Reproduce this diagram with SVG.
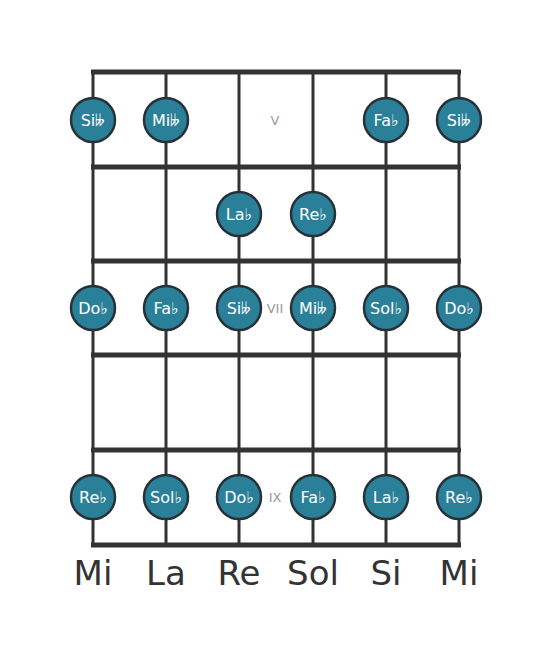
<svg xmlns="http://www.w3.org/2000/svg" width="553" height="656" viewBox="0 0 553 656">
<style>
.fret{stroke:#333;stroke-width:5;fill:none}
.str{stroke:#333;stroke-width:3;fill:none}
.note circle{fill:#2b8099;stroke:#263238;stroke-width:2.5}
.note text{fill:#fff;font-family:"DejaVu Sans",sans-serif;font-size:16px;text-anchor:middle;dominant-baseline:central}
.fn{fill:#999;font-family:"DejaVu Sans",sans-serif;font-size:13px;text-anchor:middle;dominant-baseline:central}
.sn{fill:#333;font-family:"DejaVu Sans",sans-serif;font-size:34px;text-anchor:middle}
</style>
<rect width="553" height="656" fill="#fff"/>
<g id="fretboard">
<line class="str" x1="93" y1="72" x2="93" y2="545"/>
<line class="str" x1="166" y1="72" x2="166" y2="545"/>
<line class="str" x1="239" y1="72" x2="239" y2="545"/>
<line class="str" x1="313" y1="72" x2="313" y2="545"/>
<line class="str" x1="386" y1="72" x2="386" y2="545"/>
<line class="str" x1="459" y1="72" x2="459" y2="545"/>
<line class="fret" x1="91" y1="72" x2="461" y2="72"/>
<line class="fret" x1="91" y1="167" x2="461" y2="167"/>
<line class="fret" x1="91" y1="261" x2="461" y2="261"/>
<line class="fret" x1="91" y1="355" x2="461" y2="355"/>
<line class="fret" x1="91" y1="450" x2="461" y2="450"/>
<line class="fret" x1="91" y1="545" x2="461" y2="545"/>
</g>
<g id="fret-numbers">
<text class="fn" x="275" y="120">V</text>
<text class="fn" x="275" y="308">VII</text>
<text class="fn" x="275" y="497">IX</text>
</g>
<g id="n1"><g class="note"><circle cx="93" cy="120" r="22"/><text x="93" y="120">Si𝄫</text></g></g>
<g id="n2"><g class="note"><circle cx="166" cy="120" r="22"/><text x="166" y="120">Mi𝄫</text></g></g>
<g id="n3"><g class="note"><circle cx="386" cy="120" r="22"/><text x="386" y="120">Fa♭</text></g></g>
<g id="n4"><g class="note"><circle cx="459" cy="120" r="22"/><text x="459" y="120">Si𝄫</text></g></g>
<g id="n5"><g class="note"><circle cx="239" cy="214" r="22"/><text x="239" y="214">La♭</text></g></g>
<g id="n6"><g class="note"><circle cx="313" cy="214" r="22"/><text x="313" y="214">Re♭</text></g></g>
<g id="n7"><g class="note"><circle cx="93" cy="308" r="22"/><text x="93" y="308">Do♭</text></g></g>
<g id="n8"><g class="note"><circle cx="166" cy="308" r="22"/><text x="166" y="308">Fa♭</text></g></g>
<g id="n9"><g class="note"><circle cx="239" cy="308" r="22"/><text x="239" y="308">Si𝄫</text></g></g>
<g id="n10"><g class="note"><circle cx="313" cy="308" r="22"/><text x="313" y="308">Mi𝄫</text></g></g>
<g id="n11"><g class="note"><circle cx="386" cy="308" r="22"/><text x="386" y="308">Sol♭</text></g></g>
<g id="n12"><g class="note"><circle cx="459" cy="308" r="22"/><text x="459" y="308">Do♭</text></g></g>
<g id="n13"><g class="note"><circle cx="93" cy="497" r="22"/><text x="93" y="497">Re♭</text></g></g>
<g id="n14"><g class="note"><circle cx="166" cy="497" r="22"/><text x="166" y="497">Sol♭</text></g></g>
<g id="n15"><g class="note"><circle cx="239" cy="497" r="22"/><text x="239" y="497">Do♭</text></g></g>
<g id="n16"><g class="note"><circle cx="313" cy="497" r="22"/><text x="313" y="497">Fa♭</text></g></g>
<g id="n17"><g class="note"><circle cx="386" cy="497" r="22"/><text x="386" y="497">La♭</text></g></g>
<g id="n18"><g class="note"><circle cx="459" cy="497" r="22"/><text x="459" y="497">Re♭</text></g></g>
<g id="string-names">
<text class="sn" x="93" y="585">Mi</text>
<text class="sn" x="166" y="585">La</text>
<text class="sn" x="239" y="585">Re</text>
<text class="sn" x="313" y="585">Sol</text>
<text class="sn" x="386" y="585">Si</text>
<text class="sn" x="459" y="585">Mi</text>
</g>
</svg>
